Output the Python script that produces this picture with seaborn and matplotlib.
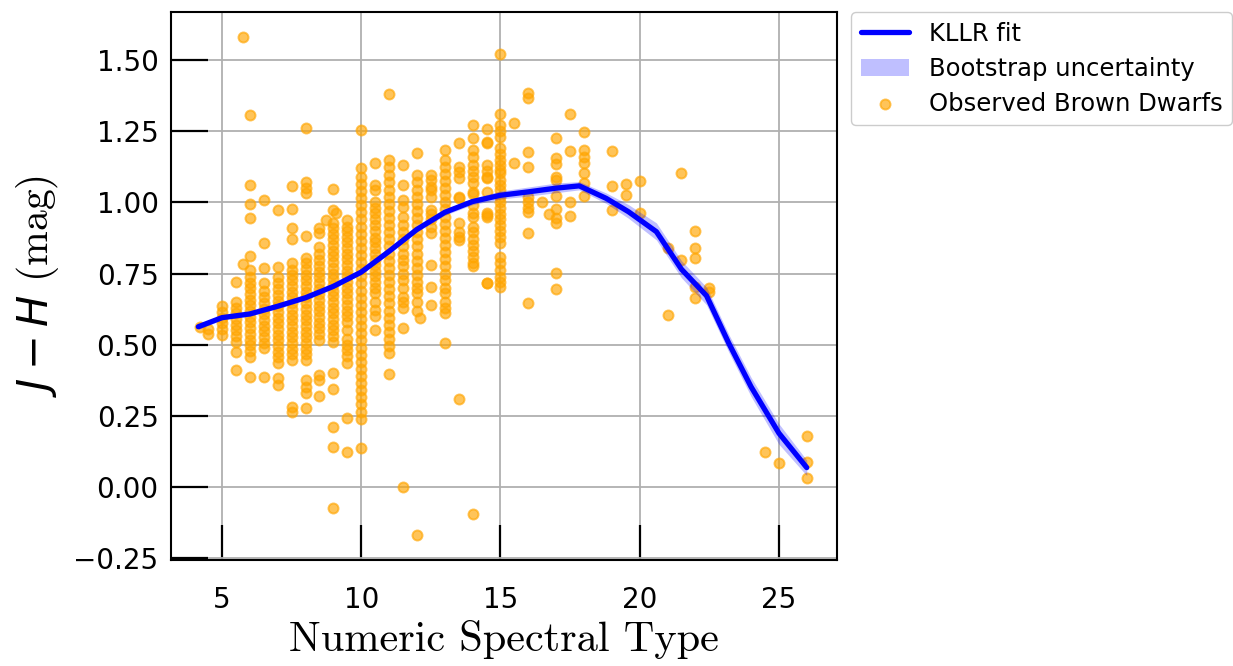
import numpy as np
import pandas as pd
import matplotlib
matplotlib.use("Agg")
import matplotlib.pyplot as plt
import seaborn as sns

# ---------------- data ----------------
# observed J-H colours grouped by numeric spectral type
spt_columns = [4.2, 4.5, 5.0, 5.5, 5.75, 6.0, 6.5, 7.0, 7.5, 8.0, 8.5, 8.75, 9.0, 9.1,
               9.5, 10.0, 10.5, 11.0, 11.5, 12.0, 12.1, 12.5, 13.0, 13.5, 14.0, 14.5,
               15.0, 15.5, 16.0, 16.5, 16.75, 17.0, 17.5, 18.0, 19.0, 19.5, 20.0,
               21.0, 21.5, 22.0, 22.5, 24.5, 25.0, 26.0]

jh_420 = [0.563]
jh_450 = [0.537, 0.555]
jh_500 = [0.535, 0.555, 0.575, 0.595, 0.615, 0.635]
jh_550 = [0.411, 0.475, 0.511, 0.530, 0.550, 0.570, 0.590, 0.610, 0.630, 0.651, 0.721]
jh_575 = [0.783, 1.582]
jh_600 = [0.388, 0.458, 0.478, 0.498, 0.518, 0.538, 0.558, 0.578, 0.598, 0.618, 0.638,
          0.658, 0.678, 0.698, 0.718, 0.738, 0.762, 0.812, 0.944, 0.993, 1.061, 1.307]
jh_650 = [0.388, 0.487, 0.507, 0.527, 0.547, 0.567, 0.587, 0.607, 0.627, 0.647, 0.667,
          0.687, 0.716, 0.768, 0.856, 1.008]
jh_700 = [0.358, 0.382, 0.435, 0.455, 0.475, 0.495, 0.515, 0.535, 0.555, 0.575, 0.595,
          0.615, 0.635, 0.655, 0.675, 0.695, 0.715, 0.739, 0.774, 0.973]
jh_750 = [0.265, 0.282, 0.446, 0.466, 0.486, 0.506, 0.526, 0.546, 0.566, 0.586, 0.606,
          0.626, 0.646, 0.666, 0.686, 0.706, 0.726, 0.746, 0.762, 0.786, 0.870, 0.909,
          0.976, 1.059]
jh_800 = [0.276, 0.329, 0.352, 0.376, 0.446, 0.466, 0.486, 0.506, 0.526, 0.546, 0.566,
          0.586, 0.606, 0.626, 0.646, 0.666, 0.686, 0.706, 0.726, 0.746, 0.766, 0.786,
          0.805, 0.883, 1.032, 1.052, 1.073, 1.260]
jh_850 = [0.320, 0.376, 0.394, 0.517, 0.537, 0.557, 0.577, 0.597, 0.617, 0.637, 0.657,
          0.677, 0.697, 0.717, 0.737, 0.757, 0.777, 0.797, 0.817, 0.844, 0.891, 0.909]
jh_875 = [0.938]
jh_900 = [-0.075, 0.139, 0.210, 0.343, 0.400, 0.510, 0.530, 0.550, 0.570, 0.590, 0.610,
          0.630, 0.650, 0.670, 0.690, 0.710, 0.730, 0.750, 0.770, 0.790, 0.810, 0.830,
          0.850, 0.870, 0.890, 0.910, 0.927, 0.973, 1.046]
jh_910 = [0.962]
jh_950 = [0.124, 0.241, 0.435, 0.460, 0.480, 0.500, 0.520, 0.550, 0.581, 0.600, 0.620,
          0.640, 0.660, 0.680, 0.700, 0.720, 0.740, 0.760, 0.780, 0.800, 0.820, 0.840,
          0.860, 0.880, 0.900, 0.915, 0.938]
jh_1000 = [0.136, 0.240, 0.265, 0.290, 0.315, 0.340, 0.365, 0.390, 0.415, 0.440, 0.465,
           0.490, 0.515, 0.540, 0.565, 0.590, 0.615, 0.640, 0.665, 0.690, 0.715, 0.740,
           0.765, 0.790, 0.815, 0.840, 0.865, 0.890, 0.915, 0.940, 0.965, 0.990, 1.015,
           1.040, 1.065, 1.090, 1.120, 1.254]
jh_1050 = [0.552, 0.600, 0.622, 0.651, 0.681, 0.700, 0.720, 0.740, 0.760, 0.780, 0.798,
           0.820, 0.840, 0.860, 0.875, 0.900, 0.920, 0.940, 0.962, 0.979, 1.000, 1.044,
           1.061, 1.140]
jh_1100 = [0.396, 0.471, 0.495, 0.520, 0.545, 0.570, 0.595, 0.620, 0.645, 0.670, 0.695,
           0.720, 0.745, 0.770, 0.795, 0.820, 0.845, 0.870, 0.895, 0.920, 0.945, 0.970,
           0.995, 1.020, 1.045, 1.070, 1.095, 1.125, 1.149, 1.381]
jh_1150 = [0.001, 0.557, 0.628, 0.649, 0.669, 0.700, 0.727, 0.750, 0.775, 0.798, 0.820,
           0.845, 0.870, 0.895, 0.920, 0.950, 0.985, 1.008, 1.061, 1.131]
jh_1200 = [-0.169, 0.620, 0.651, 0.681, 0.700, 0.720, 0.745, 0.770, 0.795, 0.820, 0.845,
           0.870, 0.895, 0.920, 0.945, 0.970, 0.995, 1.020, 1.045, 1.070, 1.096, 1.172]
jh_1210 = [0.593]
jh_1250 = [0.640, 0.704, 0.780, 0.892, 0.915, 0.940, 0.960, 0.973, 1.020, 1.044, 1.055,
           1.079, 1.096]
jh_1300 = [0.505, 0.610, 0.630, 0.650, 0.680, 0.700, 0.727, 0.750, 0.775, 0.800, 0.825,
           0.850, 0.875, 0.900, 0.925, 0.950, 0.975, 1.000, 1.025, 1.050, 1.075, 1.100,
           1.125, 1.150, 1.184]
jh_1350 = [0.309, 0.868, 0.880, 0.897, 0.927, 1.014, 1.020, 1.085, 1.105, 1.125, 1.208]
jh_1400 = [-0.096, 0.777, 0.787, 0.809, 0.830, 0.850, 0.870, 0.895, 0.915, 0.950, 0.962,
           0.990, 1.030, 1.038, 1.067, 1.090, 1.110, 1.130, 1.160, 1.184, 1.225, 1.272]
jh_1450 = [0.716, 0.718, 0.950, 0.956, 0.962, 1.038, 1.085, 1.090, 1.110, 1.131, 1.210,
           1.213, 1.257]
jh_1500 = [0.704, 0.720, 0.739, 0.762, 0.786, 0.809, 0.856, 0.880, 0.900, 0.920, 0.940,
           0.960, 0.980, 1.000, 1.020, 1.044, 1.060, 1.079, 1.102, 1.114, 1.130, 1.150,
           1.170, 1.190, 1.231, 1.250, 1.272, 1.310, 1.521]
jh_1550 = [1.137, 1.280]
jh_1600 = [0.648, 0.894, 0.967, 0.980, 1.000, 1.020, 1.125, 1.176, 1.366, 1.383]
jh_1650 = [1.000]
jh_1675 = [0.959]
jh_1700 = [0.695, 0.751, 0.927, 0.944, 0.977, 1.024, 1.079, 1.090, 1.135, 1.155, 1.225]
jh_1750 = [0.953, 1.002, 1.180, 1.310]
jh_1800 = [1.022, 1.067, 1.104, 1.137, 1.160, 1.184, 1.249]
jh_1900 = [0.973, 1.059, 1.182]
jh_1950 = [1.026, 1.063]
jh_2000 = [0.964, 1.076]
jh_2100 = [0.604, 0.839]
jh_2150 = [0.798, 1.102]
jh_2200 = [0.663, 0.704, 0.803, 0.838, 0.900]
jh_2250 = [0.686, 0.700]
jh_2450 = [0.124]
jh_2500 = [0.083]
jh_2600 = [0.031, 0.089, 0.180]

jh_columns = [jh_420, jh_450, jh_500, jh_550, jh_575, jh_600, jh_650, jh_700, jh_750,
              jh_800, jh_850, jh_875, jh_900, jh_910, jh_950, jh_1000, jh_1050, jh_1100,
              jh_1150, jh_1200, jh_1210, jh_1250, jh_1300, jh_1350, jh_1400, jh_1450,
              jh_1500, jh_1550, jh_1600, jh_1650, jh_1675, jh_1700, jh_1750, jh_1800,
              jh_1900, jh_1950, jh_2000, jh_2100, jh_2150, jh_2200, jh_2250, jh_2450,
              jh_2500, jh_2600]

# KLLR fit and bootstrap band
fit_spt = [4.15, 5.0, 6.0, 7.0, 8.0, 9.0, 10.0, 11.0, 12.0, 13.0, 14.0, 15.0, 16.0,
           17.0, 17.83, 18.8, 19.6, 20.6, 21.5, 22.4, 23.2, 24.0, 25.0, 26.0]
fit_jh = [0.563, 0.595, 0.608, 0.635, 0.665, 0.705, 0.755, 0.828, 0.905, 0.965, 1.003,
          1.025, 1.037, 1.050, 1.058, 1.014, 0.967, 0.897, 0.765, 0.672, 0.505, 0.352,
          0.189, 0.068]
fit_lo = [0.554, 0.587, 0.600, 0.627, 0.657, 0.697, 0.747, 0.819, 0.896, 0.955, 0.992,
          1.012, 1.022, 1.034, 1.044, 0.996, 0.944, 0.868, 0.735, 0.640, 0.474, 0.318,
          0.150, 0.040]
fit_hi = [0.572, 0.603, 0.616, 0.643, 0.673, 0.713, 0.763, 0.837, 0.914, 0.975, 1.014,
          1.040, 1.054, 1.068, 1.073, 1.033, 0.992, 0.928, 0.795, 0.702, 0.536, 0.385,
          0.222, 0.094]

x_ticks = [5, 10, 15, 20, 25]
y_ticks = [-0.25, 0.0, 0.25, 0.5, 0.75, 1.0, 1.25, 1.5]

# ---------------- build tables ----------------
obs_x, obs_y = [], []
for sx, ys in zip(spt_columns, jh_columns):
    obs_x.extend([sx] * len(ys))
    obs_y.extend(ys)
obs = pd.DataFrame({"spt": obs_x, "jh": obs_y})
fit = pd.DataFrame({"spt": fit_spt, "jh": fit_jh, "lo": fit_lo, "hi": fit_hi})

# ---------------- plot ----------------
sns.set_style("white")
plt.rcParams["font.family"] = ["DejaVu Sans"]
plt.rcParams["mathtext.fontset"] = "dejavusans"
plt.rcParams["text.color"] = "black"
plt.rcParams["axes.labelcolor"] = "black"
plt.rcParams["xtick.color"] = "black"
plt.rcParams["ytick.color"] = "black"

fig = plt.figure(figsize=(12.33, 6.66), dpi=100)
ax = fig.add_axes([0.1387, 0.159, 0.54, 0.823])

ax.grid(True, color="#b0b0b0", linewidth=1.3, zorder=0)
ax.set_axisbelow(True)

sns.scatterplot(data=obs, x="spt", y="jh", color="orange", edgecolor="orange",
                linewidth=1.4, alpha=0.65, s=52, ax=ax, label="Observed Brown Dwarfs",
                zorder=3)
band = ax.fill_between(fit["spt"], fit["lo"], fit["hi"], color="blue", alpha=0.25,
                       linewidth=0, label="Bootstrap uncertainty", zorder=4)
sns.lineplot(data=fit, x="spt", y="jh", color="blue", linewidth=3.8, ax=ax,
             label="KLLR fit", zorder=5)

ax.set_xlim(3.17, 27.08)
ax.set_ylim(-0.257, 1.669)
ax.set_xticks(x_ticks)
ax.set_yticks(y_ticks)
ax.set_yticklabels([f"{v:.2f}".replace("-", "\u2212") for v in y_ticks])

ax.tick_params(axis="x", direction="in", length=25, width=1.6, labelsize=20, pad=19,
               bottom=True, top=False)
ax.tick_params(axis="y", direction="in", length=26.5, width=1.6, labelsize=20, pad=9,
               left=True, right=False)
for sp in ax.spines.values():
    sp.set_color("black")
    sp.set_linewidth(1.5)

ax.set_xlabel("Numeric Spectral Type", family="cmr10", fontsize=30.5, labelpad=4)
ax.set_ylabel(r"$J-H$ (mag)", family="cmr10", fontsize=30, labelpad=9)

h, l = ax.get_legend_handles_labels()
order = [l.index("KLLR fit"), l.index("Bootstrap uncertainty"), l.index("Observed Brown Dwarfs")]
ax.legend([h[i] for i in order], [l[i] for i in order], loc="upper left",
          bbox_to_anchor=(1.021, 1.0), borderaxespad=0, fontsize=17.5, frameon=True,
          edgecolor="#cccccc", framealpha=1.0, handlelength=2.0, markerscale=1.0,
          labelspacing=0.45)

fig.savefig("out.png", dpi=100)
